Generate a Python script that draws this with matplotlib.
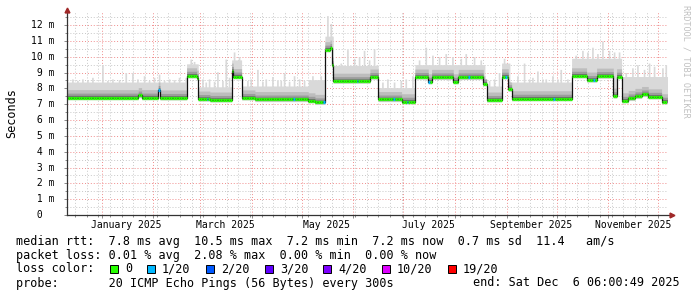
import matplotlib
matplotlib.use('Agg')
import matplotlib.pyplot as plt
import matplotlib.dates as mdates
import matplotlib.transforms as mtransforms
from matplotlib.patches import Rectangle
from matplotlib.ticker import MultipleLocator, NullFormatter
import numpy as np
import pandas as pd

# median rtt in ms, each level holds from its start date to the next one
seg_start = ['2024-12-11', '2025-01-23', '2025-01-25', '2025-02-04', '2025-02-05',
             '2025-02-21', '2025-02-27', '2025-02-28', '2025-03-07', '2025-03-20',
             '2025-03-21', '2025-03-26', '2025-04-03', '2025-05-05', '2025-05-09',
             '2025-05-15', '2025-05-18', '2025-05-19', '2025-05-20', '2025-06-11',
             '2025-06-16', '2025-06-30', '2025-07-08', '2025-07-16', '2025-07-18',
             '2025-07-31', '2025-08-03', '2025-08-18', '2025-08-20', '2025-08-29',
             '2025-09-02', '2025-09-04', '2025-10-10', '2025-10-19', '2025-10-25',
             '2025-11-04', '2025-11-06', '2025-11-09', '2025-11-13', '2025-11-17',
             '2025-11-21', '2025-11-25', '2025-12-03']
seg_rtt = [7.42, 7.55, 7.42, 7.90, 7.40,
           8.80, 8.65, 7.33, 7.27, 9.10,
           8.75, 7.40, 7.30, 7.22, 7.12,
           10.45, 10.55, 9.47, 8.46, 8.72,
           7.30, 7.16, 8.72, 8.42, 8.70,
           8.42, 8.70, 8.30, 7.27, 8.74,
           7.95, 7.35, 8.80, 8.53, 8.78,
           7.52, 8.74, 7.22, 7.37, 7.50,
           7.62, 7.47, 7.16]

# top of the smoke (ms) per stretch, and single day spikes above it
smoke_start = ['2024-12-11', '2025-02-21', '2025-02-28', '2025-03-20', '2025-03-26',
               '2025-05-05', '2025-05-15', '2025-05-20', '2025-06-16', '2025-07-08',
               '2025-08-19', '2025-08-29', '2025-09-03', '2025-10-10', '2025-11-09']
smoke_top = [8.40, 9.55, 8.10, 9.80, 8.15,
             8.55, 11.30, 9.45, 8.05, 9.50,
             8.15, 9.60, 8.40, 9.90, 8.75]
spike_day = ['2024-12-14', '2024-12-17', '2024-12-20', '2024-12-23', '2024-12-26',
             '2025-01-01', '2025-01-04', '2025-01-07', '2025-01-11', '2025-01-15',
             '2025-01-19', '2025-01-22', '2025-01-26', '2025-01-29', '2025-02-01',
             '2025-02-04', '2025-02-07', '2025-02-10', '2025-02-13', '2025-02-16',
             '2025-02-20', '2025-02-23', '2025-02-25',
             '2025-03-02', '2025-03-04', '2025-03-06', '2025-03-09', '2025-03-11',
             '2025-03-14', '2025-03-16', '2025-03-18',
             '2025-03-21', '2025-03-24', '2025-03-29', '2025-03-31', '2025-04-04',
             '2025-04-07', '2025-04-09', '2025-04-13', '2025-04-16', '2025-04-18',
             '2025-04-20', '2025-04-23', '2025-04-26', '2025-04-29', '2025-05-02',
             '2025-05-07', '2025-05-12', '2025-05-16', '2025-05-18',
             '2025-05-24', '2025-05-28', '2025-06-01', '2025-06-04', '2025-06-07',
             '2025-06-10', '2025-06-13', '2025-06-18', '2025-06-21', '2025-06-25',
             '2025-06-29', '2025-07-02', '2025-07-06', '2025-07-10', '2025-07-14',
             '2025-07-18', '2025-07-22', '2025-07-26', '2025-07-30', '2025-08-04',
             '2025-08-07', '2025-08-12', '2025-08-16', '2025-08-21', '2025-08-24',
             '2025-08-27', '2025-08-30', '2025-09-07', '2025-09-11', '2025-09-14',
             '2025-09-16', '2025-09-19', '2025-09-22', '2025-09-24', '2025-09-28',
             '2025-10-01', '2025-10-03', '2025-10-07',
             '2025-10-12', '2025-10-16', '2025-10-19', '2025-10-22', '2025-10-25',
             '2025-10-28', '2025-11-01', '2025-11-04', '2025-11-07', '2025-11-11',
             '2025-11-15', '2025-11-18', '2025-11-22', '2025-11-25', '2025-11-28',
             '2025-12-03', '2025-12-05']
spike_top = [8.6, 8.5, 8.6, 8.55, 8.7,
             9.5, 8.5, 8.6, 8.55, 9.0,
             9.0, 8.6, 8.8, 8.5, 8.7,
             8.9, 8.5, 8.6, 8.55, 8.7,
             8.7, 9.85, 9.7,
             8.6, 8.4, 8.6, 8.45, 9.05,
             8.5, 9.85, 8.7,
             10.3, 10.0, 8.5, 8.6, 9.2,
             8.45, 8.6, 8.75, 8.5, 8.5,
             9.0, 8.45, 8.8, 8.6, 8.5,
             8.8, 8.8, 12.6, 12.1,
             9.6, 10.45, 9.9, 10.0, 10.4,
             9.8, 10.5, 8.4, 8.6, 8.4,
             8.5, 8.6, 8.8, 9.8, 10.6,
             10.1, 10.0, 10.2, 10.0, 9.9,
             10.2, 10.0, 9.8, 8.5, 8.6,
             9.0, 9.9, 8.8, 9.6, 8.6,
             8.7, 9.1, 8.6, 8.6, 8.8,
             8.6, 9.2, 8.6,
             10.1, 10.4, 10.3, 10.6, 10.2,
             11.0, 10.4, 10.3, 10.3, 9.0,
             9.3, 9.5, 9.2, 9.6, 9.4,
             9.3, 9.5]

# days where 1 of 20 pings was lost
loss_day = ['2025-02-04', '2025-03-05', '2025-04-26', '2025-05-14', '2025-06-03',
            '2025-06-25', '2025-07-03', '2025-07-16', '2025-08-09', '2025-08-31',
            '2025-09-29', '2025-10-23']

x_label_day = ['2025-01-16', '2025-03-16', '2025-05-16', '2025-07-16', '2025-09-16', '2025-11-16']
x_labels = ['January 2025', 'March 2025', 'May 2025', 'July 2025', 'September 2025', 'November 2025']
y_values = [0, 1, 2, 3, 4, 5, 6, 7, 8, 9, 10, 11, 12]
y_labels = [' 0', ' 1 m', ' 2 m', ' 3 m', ' 4 m', ' 5 m', ' 6 m', ' 7 m', ' 8 m',
            ' 9 m', '10 m', '11 m', '12 m']

loss_names = ['0', '1/20', '2/20', '3/20', '4/20', '10/20', '19/20']
loss_colors = ['#26ff00', '#00b8ff', '#0059ff', '#5e00ff', '#7e00ff', '#dd00ff', '#ff0000']

MONO = 'DejaVu Sans Mono'
W, H = 697, 297

t_start = pd.Timestamp('2024-12-11 06:00:49')
t_end = pd.Timestamp('2025-12-06 06:00:49')

days = pd.date_range('2024-12-11', '2025-12-06', freq='D')
i_seg = np.searchsorted(pd.to_datetime(seg_start).values, days.values, side='right') - 1
med = np.array(seg_rtt)[i_seg]
i_sm = np.searchsorted(pd.to_datetime(smoke_start).values, days.values, side='right') - 1
top = np.array(smoke_top)[i_sm]
for d, v in zip(pd.to_datetime(spike_day), spike_top):
    k = days.get_loc(d)
    top[k] = max(top[k], v)
top = np.maximum(top, med + 0.3)

cols = np.array([loss_colors[0]] * len(days), dtype=object)
for d in pd.to_datetime(loss_day):
    cols[days.get_loc(d)] = loss_colors[1]

xe = mdates.date2num(list(days) + [days[-1] + pd.Timedelta(days=1)])
x0 = xe[:-1]
medE = np.append(med, med[-1])
topE = np.append(top, top[-1])

fig = plt.figure(figsize=(W / 100, H / 100), dpi=100)
fig.patch.set_facecolor('white')
ax = fig.add_axes([67 / W, 1 - 215 / H, 600 / W, 202.6 / H])
ax.set_xlim(mdates.date2num(t_start), mdates.date2num(t_end))
ax.set_ylim(0, 12.8)

# smoke
ax.fill_between(xe, medE - 0.14, topE, step='post', color='#d9d9d9', lw=0, zorder=1)
ax.fill_between(xe, medE - 0.10, np.minimum(topE, medE + 0.5), step='post', color='#bdbdbd', lw=0, zorder=1.1)
ax.fill_between(xe, medE - 0.06, medE + 0.28, step='post', color='#9c9c9c', lw=0, zorder=1.2)
ax.fill_between(xe, medE - 0.03, medE + 0.14, step='post', color='#6e6e6e', lw=0, zorder=1.3)

# median
ax.step(xe, medE, where='post', color='#111111', lw=0.9, zorder=4)
ax.hlines(med, x0, xe[1:], colors=list(cols), lw=2.3, zorder=5)

# grid
ax.xaxis.set_major_locator(mdates.MonthLocator())
ax.xaxis.set_minor_locator(mdates.WeekdayLocator(byweekday=mdates.MO))
ax.xaxis.set_major_formatter(NullFormatter())
ax.yaxis.set_major_locator(MultipleLocator(1))
ax.yaxis.set_minor_locator(MultipleLocator(0.5))
ax.yaxis.set_major_formatter(NullFormatter())
ax.set_axisbelow(True)
ax.grid(True, which='minor', color='#c8c8c8', ls=(0, (1, 2)), lw=0.7, zorder=0.5)
ax.grid(True, which='major', color='#f08c8c', ls=(0, (1, 2)), lw=0.7, zorder=0.6)
ax.tick_params(which='both', direction='out', color='#777777', width=0.6)
ax.tick_params(which='major', length=2.2)
ax.tick_params(which='minor', length=1.4)
for s in ax.spines.values():
    s.set_visible(False)
ax.set_facecolor('white')

# axes with arrows
ax.plot([0, 1.008], [0, 0], transform=ax.transAxes, color='#333333', lw=0.9, clip_on=False, zorder=7)
ax.plot([0, 0], [0, 1.012], transform=ax.transAxes, color='#333333', lw=0.9, clip_on=False, zorder=7)
ax.plot([1.008], [0], transform=ax.transAxes, marker='>', ms=3.5, color='#a02828', clip_on=False, zorder=8)
ax.plot([0], [1.012], transform=ax.transAxes, marker='^', ms=3.5, color='#a02828', clip_on=False, zorder=8)

# tick labels
tx = mtransforms.blended_transform_factory(ax.transData, fig.transFigure)
for d, lab in zip(x_label_day, x_labels):
    fig.text(mdates.date2num(pd.Timestamp(d)), 1 - 225 / H, lab, transform=tx,
             ha='center', va='center', fontsize=7, family=MONO)
ty = mtransforms.blended_transform_factory(fig.transFigure, ax.transData)
for v, lab in zip(y_values, y_labels):
    fig.text(31 / W, v, lab, transform=ty, ha='left', va='center', fontsize=7, family=MONO)

fig.text(12 / W, 1 - 113 / H, 'Seconds', rotation=90, ha='center', va='center',
         fontsize=8.5, family=MONO)
fig.text(686 / W, 1 - 5 / H, 'RRDTOOL / TOBI OETIKER', rotation=270, ha='center', va='top',
         fontsize=6.1, family=MONO, color='#c0c0c0')

# legend
lines = ['median rtt:  7.8 ms avg  10.5 ms max  7.2 ms min  7.2 ms now  0.7 ms sd  11.4   am/s',
         'packet loss: 0.01 % avg  2.08 % max  0.00 % min  0.00 % now',
         'loss color:',
         'probe:       20 ICMP Echo Pings (56 Bytes) every 300s']
for i, ln in enumerate(lines):
    fig.text(16 / W, 1 - (241 + 14 * i) / H, ln, ha='left', va='center', fontsize=8.5, family=MONO)
fig.text(680 / W, 1 - 283 / H, 'end: Sat Dec  6 06:00:49 2025', ha='right', va='center',
         fontsize=8.5, family=MONO)

sq_x = [110, 147, 206, 265, 323, 382, 448]
for x, name, c in zip(sq_x, loss_names, loss_colors):
    fig.patches.append(Rectangle((x / W, 1 - 273 / H), 8 / W, 8 / H, transform=fig.transFigure,
                                 facecolor=c, edgecolor='black', lw=0.7))
    fig.text((x + 15) / W, 1 - 269 / H, name, ha='left', va='center', fontsize=8.5, family=MONO)

fig.savefig('out.png', dpi=100)
